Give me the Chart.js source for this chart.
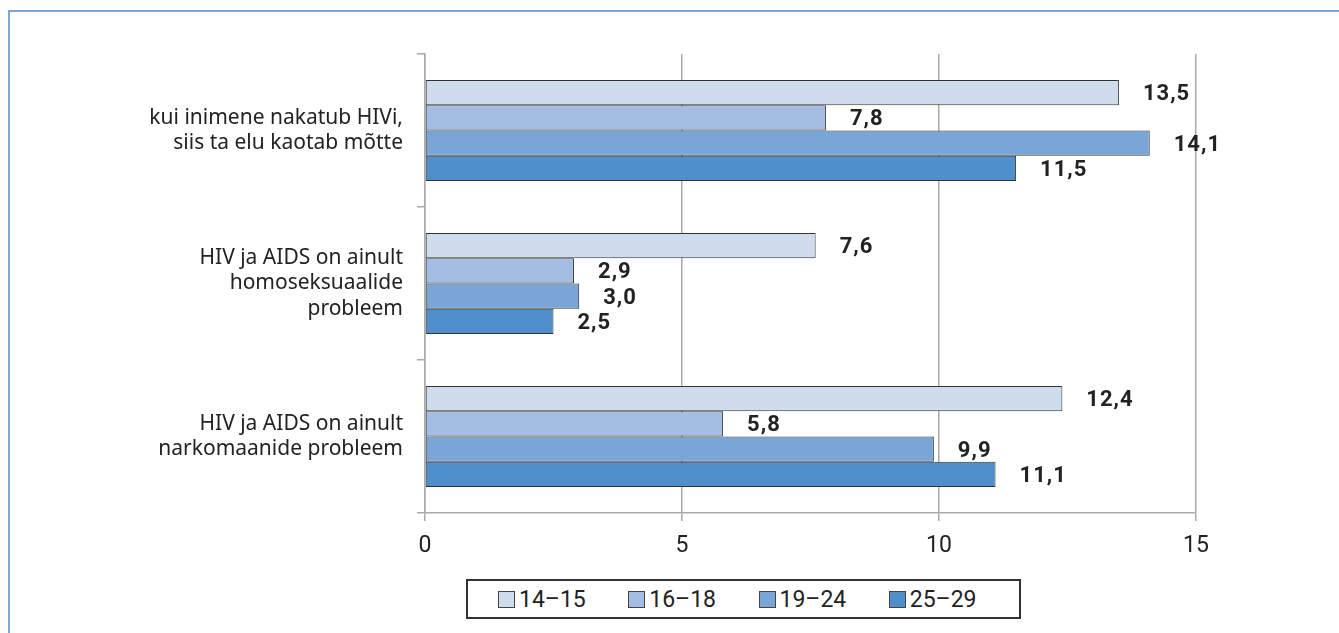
<!DOCTYPE html>
<html>
<head>
<meta charset="utf-8">
<script src="https://cdn.jsdelivr.net/npm/chart.js@4"></script>
<style>
  body { margin: 0; background: #fff; width: 1339px; height: 633px; overflow: hidden; position: relative; }
  #frame { position: absolute; left: 8px; top: 10px; width: 1340px; height: 640px; border-left: 2px solid #7ba7d9; border-top: 2px solid #7ba7d9; pointer-events: none; }
  #wrap { position: absolute; left: 0; top: 0; width: 1339px; height: 570px; }
  #legend { position: absolute; left: 466px; top: 579px; width: 551px; height: 36px; border: 2px solid #333; box-sizing: content-box;
            display: flex; align-items: center; padding-left: 0; font-family: Roboto, sans-serif; font-size: 23px; color: #222; }
  #legend div { width: 142px; white-space: nowrap; }
  #legend div:first-child { margin-left: 30px; }
  #legend span.sw { display: inline-block; width: 15px; height: 15px; border: 1px solid #444; margin-right: 4px; vertical-align: -1px; }
</style>
</head>
<body>
<div id="wrap"><canvas id="c" width="1339" height="570"></canvas></div>
<div id="legend"></div>
<div id="frame"></div>
<script>
const categories = [
  ['kui inimene nakatub HIVi,', 'siis ta elu kaotab mõtte'],
  ['HIV ja AIDS on ainult', 'homoseksuaalide', 'probleem'],
  ['HIV ja AIDS on ainult', 'narkomaanide probleem']
];
const seriesNames = ['14–15', '16–18', '19–24', '25–29'];
const age14_15 = [13.5, 7.6, 12.4];
const age16_18 = [7.8, 2.9, 5.8];
const age19_24 = [14.1, 3.0, 9.9];
const age25_29 = [11.5, 2.5, 11.1];
const xTicks = [0, 5, 10, 15];
const colors = ['#cfdcee', '#a3bde3', '#79a6d6', '#4f8fcc'];

const seriesValues = [age14_15, age16_18, age19_24, age25_29];

// value labels to the right of each bar, comma decimal
const valueLabels = {
  id: 'valueLabels',
  afterDatasetsDraw(chart) {
    const ctx = chart.ctx;
    ctx.save();
    ctx.font = 'bold 22px Roboto, sans-serif';
    ctx.letterSpacing = '1px';
    ctx.fillStyle = '#222';
    ctx.textAlign = 'left';
    ctx.textBaseline = 'middle';
    chart.data.datasets.forEach((ds, i) => {
      chart.getDatasetMeta(i).data.forEach((bar, j) => {
        ctx.fillText(ds.data[j].toFixed(1).replace('.', ','), bar.x + 24, bar.y + 2);
      });
    });
    ctx.restore();
  }
};

new Chart(document.getElementById('c'), {
  type: 'bar',
  data: {
    labels: categories,
    datasets: seriesNames.map((n, i) => ({
      label: n,
      data: seriesValues[i],
      backgroundColor: colors[i],
      borderColor: '#333',
      borderWidth: 1,
      borderSkipped: false,
      categoryPercentage: 0.66,
      barPercentage: 1
    }))
  },
  options: {
    indexAxis: 'y',
    responsive: false,
    animation: false,
    layout: { padding: { top: 54, right: 143, left: 0, bottom: 0 } },
    plugins: { legend: { display: false }, tooltip: { enabled: false } },
    scales: {
      x: {
        min: 0, max: 15,
        afterBuildTicks: s => { s.ticks = xTicks.map(v => ({ value: v })); },
        afterFit: s => { s.height = 57; },
        grid: { color: '#aaa', lineWidth: 1.5, tickLength: 8 },
        border: { color: '#aaa', width: 1.5 },
        ticks: { color: '#222', font: { family: 'Roboto, sans-serif', size: 23 }, padding: 11 }
      },
      y: {
        afterFit: s => { s.width = 425; },
        grid: { drawOnChartArea: false, color: '#aaa', lineWidth: 1.5, tickLength: 8, offset: true },
        border: { color: '#aaa', width: 1.5 },
        ticks: { color: '#222', font: { family: '"Noto Sans", sans-serif', size: 21 }, padding: 14 }
      }
    }
  },
  plugins: [valueLabels]
});

const legend = document.getElementById('legend');
seriesNames.forEach((n, i) => {
  const item = document.createElement('div');
  item.innerHTML = '<span class="sw" style="background:' + colors[i] + '"></span>' + n;
  legend.appendChild(item);
});
</script>
</body>
</html>
